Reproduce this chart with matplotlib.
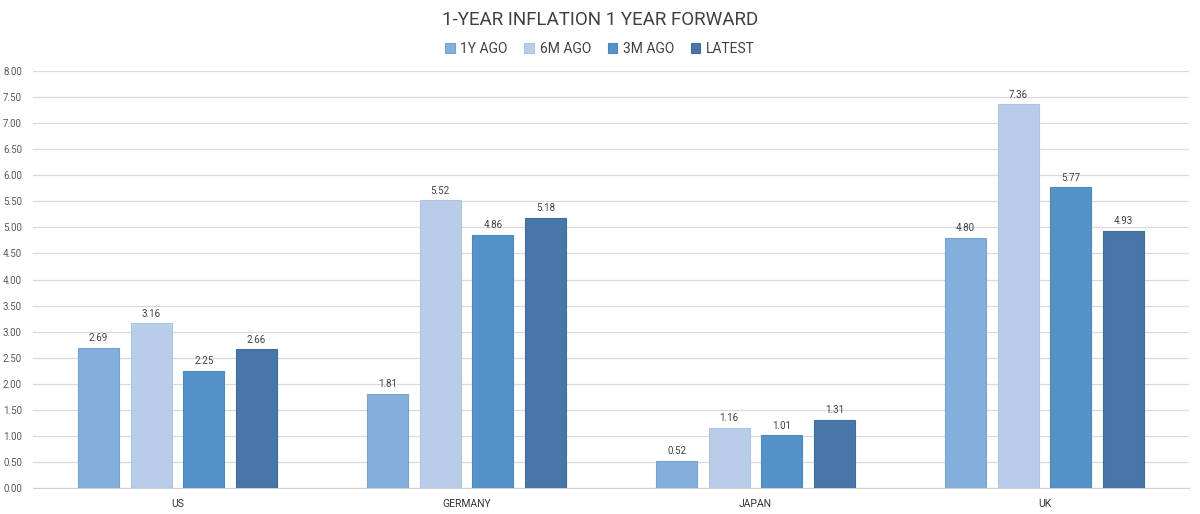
import numpy as np
import matplotlib.pyplot as plt

countries = ["US", "GERMANY", "JAPAN", "UK"]
series_names = ["1Y AGO", "6M AGO", "3M AGO", "LATEST"]
one_year_ago = [2.69, 1.81, 0.52, 4.80]
six_months_ago = [3.16, 5.52, 1.16, 7.36]
three_months_ago = [2.25, 4.86, 1.01, 5.77]
latest = [2.66, 5.18, 1.31, 4.93]
colors = ["#84AEDC", "#B8CDE8", "#5592C8", "#4677A8"]
edges = ["#78A2D0", "#AFC4E0", "#4C88BE", "#3F6D9C"]

plt.rcParams['font.family'] = ['Roboto', 'DejaVu Sans']

fig = plt.figure(figsize=(12, 5.14), dpi=100)
ax = fig.add_axes([33 / 1200, 1 - 488 / 514, 1156 / 1200, (488 - 71) / 514])

x = np.arange(len(countries))
width = 0.142
step = 0.182
all_series = [one_year_ago, six_months_ago, three_months_ago, latest]
for i, (name, vals) in enumerate(zip(series_names, all_series)):
    pos = x + (i - 1.5) * step
    bars = ax.bar(pos, vals, width, color=colors[i], edgecolor=edges[i],
                  linewidth=0.8, label=name, zorder=3)
    for b, v in zip(bars, vals):
        ax.text(b.get_x() + b.get_width() / 2, v + 0.09, f"{v:.2f}",
                ha="center", va="bottom", fontsize=7, color="#404040")

ax.set_xlim(-0.5, len(countries) - 0.5)
ax.set_ylim(0, 8)
ax.set_yticks(np.arange(0, 8.01, 0.5))
ax.set_yticklabels([f"{t:.2f}" for t in np.arange(0, 8.01, 0.5)])
ax.set_xticks(x)
ax.set_xticklabels(countries)
ax.grid(axis="y", color="#DADADA", linewidth=0.9, zorder=0)
for s in ["top", "right", "left"]:
    ax.spines[s].set_visible(False)
ax.spines["bottom"].set_color("#D0D0D0")
ax.tick_params(axis="y", length=0, labelsize=7, colors="#595959", pad=8)
ax.tick_params(axis="x", length=0, labelsize=7.5, colors="#333333", pad=8)

fig.text(0.5, 1 - 20 / 514, "1-YEAR INFLATION 1 YEAR FORWARD", ha="center",
         va="center", fontsize=13.5, color="#404040")
fig.legend(loc="center", bbox_to_anchor=(0.5, 1 - 49 / 514), ncol=4,
           frameon=False, fontsize=10, handlelength=0.7, handleheight=0.7,
           handletextpad=0.4, columnspacing=1.2, labelcolor="#404040")

fig.savefig("out.png", dpi=100)
